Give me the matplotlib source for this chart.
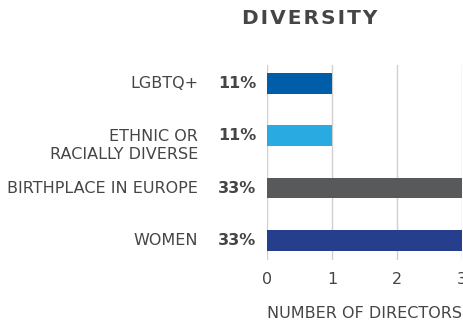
import matplotlib.pyplot as plt
from matplotlib.transforms import blended_transform_factory

# board composition, bottom to top
categories = ["WOMEN", "BIRTHPLACE IN EUROPE", "ETHNIC OR\nRACIALLY DIVERSE", "LGBTQ+"]
directors = [3, 3, 1, 1]
board_size = 9
colors = ["#253f8d", "#58595b", "#29abe2", "#005daa"]
x_ticks = [0, 1, 2, 3]

text_color = "#454545"
fs = 11.5
plt.rcParams["font.family"] = "DejaVu Sans"

fig = plt.figure(figsize=(4.63, 3.23), dpi=100)
ax = fig.add_axes([267 / 463, 1 - 260 / 323, 195 / 463, 195 / 323])

ypos = list(range(len(categories)))
ax.barh(ypos, directors, height=0.4, color=colors, zorder=3)

ax.set_xlim(0, 3)
ax.set_ylim(-0.38, 3.36)
ax.set_xticks(x_ticks)
ax.set_xticklabels([str(t) for t in x_ticks], fontsize=fs, color=text_color)
ax.set_yticks([])
ax.tick_params(axis="x", length=0, pad=9)
ax.grid(axis="x", color="#d0d0d0", linewidth=1, zorder=0)
for s in ax.spines.values():
    s.set_visible(False)

ax.set_xlabel("NUMBER OF DIRECTORS", fontsize=fs, color=text_color, labelpad=13)

# category names and percentage of the board, left of the bars
trans = blended_transform_factory(ax.transAxes, ax.transData)
for y, name, n in zip(ypos, categories, directors):
    shift = -10 if "\n" in name else 0
    ax.annotate(name, xy=(0, y), xycoords=trans, xytext=(-69, shift),
                textcoords="offset pixels", ha="right", va="center",
                fontsize=fs, color=text_color, linespacing=1.25)
    ax.annotate(f"{round(100 * n / board_size)}%", xy=(0, y), xycoords=trans,
                xytext=(-11, 0), textcoords="offset pixels", ha="right",
                va="center", fontsize=fs, fontweight="bold", color=text_color)

fig.text(310 / 463, 1 - 18 / 323, "\u200a".join("DIVERSITY"), ha="center",
         va="center", fontsize=14.5, fontweight="bold", color=text_color)

fig.savefig("out.png", dpi=100)
